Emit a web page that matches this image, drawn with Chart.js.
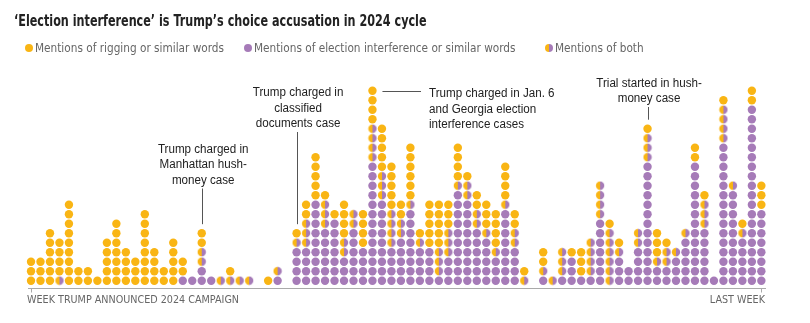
<!DOCTYPE html>
<html lang="en">
<head>
<meta charset="UTF-8">
<title>Election interference dot chart</title>
<script src="https://cdn.jsdelivr.net/npm/chart.js"></script>
<style>
    body {
        margin: 0;
        background: #fff;
        font-family: 'Liberation Sans Narrow', 'DejaVu Sans Condensed', sans-serif;
    }
    .wrap {
        position: relative;
        width: 810px;
        height: 323px;
    }
    canvas {
        position: absolute;
        left: 0;
        top: 0;
    }
    h1 {
        position: absolute;
        left: 14px;
        top: 12px;
        margin: 0;
        font-size: 15px;
        line-height: 18px;
        font-weight: bold;
        color: #222;
        white-space: nowrap;
        transform: scaleX(0.83);
        transform-origin: 0 0;
    }
    .key {
        position: absolute;
        top: 40px;
        font-size: 13px;
        line-height: 16px;
        color: #666;
        white-space: nowrap;
    }
    .key span {
        display: inline-block;
        transform: scaleX(0.9);
        transform-origin: 0 0;
    }
    .key i {
        position: absolute;
        left: -10px;
        top: 4px;
        width: 8px;
        height: 8px;
        border-radius: 50%;
    }
</style>
</head>
<body>
<div class="wrap">
    <canvas id="dots" width="810" height="323"></canvas>
    <h1>‘Election interference’ is Trump’s choice accusation in 2024 cycle</h1>
    <div class="key" style="left:35px"><i style="background:#f9b514"></i><span>Mentions of rigging or similar words</span></div>
    <div class="key" style="left:254px"><i style="background:#a67bb8"></i><span>Mentions of election interference or similar words</span></div>
    <div class="key" style="left:555px"><i style="background:linear-gradient(90deg,#f9b514 50%,#a67bb8 50%)"></i><span>Mentions of both</span></div>
</div>

<script>
    // dots per week, stacked purple -> both -> orange from the bottom
    const purpleCounts = [0,0,0,0,0,0,0,0,0,0, 0,0,0,0,0,0,1,1,2,1,
                          0,0,0,0,0,0,1,0,4,4, 9,6,7,3,6,4,13,9,4,5,
                          8,4,4,1,3,10,9,6,5,3, 8,4,0,0,1,0,1,3,1,1,
                          7,0,3,2,4,13,2,2,3,5, 13,6,1,15,10,5,19,8];
    const bothCounts   = [0,0,0,1,0,0,0,0,0,0, 0,0,0,0,0,0,0,0,2,0,
                          1,1,1,1,0,0,1,0,1,3, 0,3,0,2,2,0,4,3,4,2,
                          1,1,0,3,3,1,2,2,1,1, 1,2,1,0,1,1,3,0,0,4,
                          4,6,1,0,2,3,1,2,1,1, 0,3,0,4,1,1,0,0];
    const orangeCounts = [3,3,6,4,9,2,2,1,5,7, 4,3,8,4,2,5,2,0,2,0,
                          0,1,0,0,0,1,0,0,1,2, 5,1,1,4,0,4,4,5,5,2,
                          6,1,5,5,3,4,1,2,3,4, 4,2,1,0,2,0,0,1,3,0,
                          0,1,1,0,0,1,3,1,0,0, 2,1,0,1,0,1,2,3];
    const weeks = purpleCounts.map((_, i) => i);

    const axisLabels = ['WEEK TRUMP ANNOUNCED 2024 CAMPAIGN', 'LAST WEEK'];
    const noteWeeks = [18, 28, 36, 65];
    const noteTexts = [
        ['Trump charged in', 'Manhattan hush-', 'money case'],
        ['Trump charged in', 'classified', 'documents case'],
        ['Trump charged in Jan. 6', 'and Georgia election', 'interference cases'],
        ['Trial started in hush-', 'money case']
    ];

    const ORANGE = '#f9b514';
    const PURPLE = '#a67bb8';
    const R = 4.2;

    function layerPoints(layer) {
        const pts = [];
        weeks.forEach(i => {
            const base = layer === 0 ? 0 : layer === 1 ? purpleCounts[i] : purpleCounts[i] + bothCounts[i];
            const n = [purpleCounts, bothCounts, orangeCounts][layer][i];
            for (let k = 1; k <= n; k++) pts.push({ x: i, y: base + k });
        });
        return pts;
    }

    // half orange / half purple marker
    const halfDot = document.createElement('canvas');
    halfDot.width = 10;
    halfDot.height = 10;
    const hc = halfDot.getContext('2d');
    hc.fillStyle = ORANGE;
    hc.beginPath();
    hc.arc(5, 5, R, Math.PI / 2, Math.PI * 1.5);
    hc.fill();
    hc.fillStyle = PURPLE;
    hc.beginPath();
    hc.arc(5, 5, R, -Math.PI / 2, Math.PI / 2);
    hc.fill();

    const totals = weeks.map(i => purpleCounts[i] + bothCounts[i] + orangeCounts[i]);

    // text squeezed sideways like the original condensed face
    function squeezedText(ctx, text, x, y, align, sx) {
        ctx.save();
        ctx.translate(x, y);
        ctx.scale(sx, 1);
        ctx.textAlign = align;
        ctx.fillText(text, 0, 0);
        ctx.restore();
    }

    const notesPlugin = {
        id: 'notes',
        afterDraw(chart) {
            const { ctx, scales: { x, y } } = chart;
            ctx.save();
            ctx.font = '12.5px "Liberation Sans", Arial, sans-serif';
            ctx.fillStyle = '#222';
            ctx.strokeStyle = '#555';
            ctx.lineWidth = 1;
            ctx.textBaseline = 'middle';

            const firstLine = [149.5, 93, 94, 83.5];
            const step = 15.5;
            noteWeeks.forEach((w, n) => {
                const cx = x.getPixelForValue(w);
                const lines = noteTexts[n];
                if (n === 2) {
                    lines.forEach((t, k) => squeezedText(ctx, t, 429, firstLine[n] + k * step, 'left', 0.93));
                    const ty = Math.round(y.getPixelForValue(totals[w])) + 0.5;
                    ctx.beginPath();
                    ctx.moveTo(cx + 10, ty);
                    ctx.lineTo(421, ty);
                    ctx.stroke();
                } else {
                    lines.forEach((t, k) => squeezedText(ctx, t, cx + 1.5, firstLine[n] + k * step, 'center', 0.93));
                    const lx = Math.round(cx) + 0.5;
                    ctx.beginPath();
                    ctx.moveTo(lx, firstLine[n] + (lines.length - 1) * step + 8);
                    ctx.lineTo(lx, y.getPixelForValue(totals[w]) - 9);
                    ctx.stroke();
                }
            });

            // baseline axis
            const ay = 288.5;
            const x0 = Math.round(x.getPixelForValue(weeks[0])) + 0.5;
            const x1 = Math.round(x.getPixelForValue(weeks[weeks.length - 1])) + 0.5;
            ctx.strokeStyle = '#aaa';
            ctx.beginPath();
            ctx.moveTo(28, ay);
            ctx.lineTo(766, ay);
            ctx.moveTo(x0, ay);
            ctx.lineTo(x0, ay + 4);
            ctx.moveTo(x1, ay);
            ctx.lineTo(x1, ay + 4);
            ctx.stroke();

            ctx.font = '10.7px "Liberation Sans Narrow", "DejaVu Sans Condensed", sans-serif';
            ctx.fillStyle = '#666';
            squeezedText(ctx, axisLabels[0], 27, 300, 'left', 1);
            squeezedText(ctx, axisLabels[1], 765, 300, 'right', 1);
            ctx.restore();
        }
    };

    const ctx = document.getElementById('dots').getContext('2d');
    new Chart(ctx, {
        type: 'scatter',
        data: {
            datasets: [
                { label: 'Election interference', data: layerPoints(0), backgroundColor: PURPLE,
                  pointRadius: R, pointHoverRadius: R, borderWidth: 0 },
                { label: 'Both', data: layerPoints(1), pointStyle: halfDot,
                  pointRadius: R, pointHoverRadius: R, borderWidth: 0 },
                { label: 'Rigging', data: layerPoints(2), backgroundColor: ORANGE,
                  pointRadius: R, pointHoverRadius: R, borderWidth: 0 }
            ]
        },
        options: {
            responsive: false,
            animation: false,
            events: [],
            layout: { padding: { left: 26.26, right: 43.9, top: 81.2, bottom: 35.2 } },
            scales: {
                x: { type: 'linear', min: -0.5, max: 77.5, display: false },
                y: { type: 'linear', min: 0.25, max: 22, display: false }
            },
            plugins: {
                legend: { display: false },
                tooltip: { enabled: false }
            }
        },
        plugins: [notesPlugin]
    });
</script>
</body>
</html>
